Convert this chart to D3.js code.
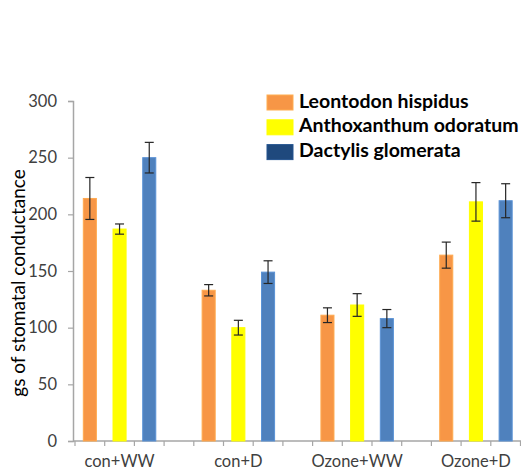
<!DOCTYPE html>
<html>
<head>
<meta charset="utf-8">
<script src="https://cdn.jsdelivr.net/npm/d3@7/dist/d3.min.js"></script>
<style>
  html, body { margin: 0; padding: 0; background: #fff; }
  svg { display: block; }
</style>
</head>
<body>
<svg id="chart" width="521" height="472"></svg>
<script>
// Treatments along the x axis
const treatments = ["con+WW", "con+D", "Ozone+WW", "Ozone+D"];
// Species (legend series)
const species = ["Leontodon hispidus", "Anthoxanthum odoratum", "Dactylis glomerata"];
// Mean stomatal conductance per species, one value per treatment
const leontodon    = [214, 133, 111, 164];
const anthoxanthum = [187, 100, 120, 211];
const dactylis     = [250, 149, 108, 212];
// Error bar half-widths
const leontodonErr    = [18.5, 5, 6.5, 11.5];
const anthoxanthumErr = [4.5, 6.5, 10, 17];
const dactylisErr     = [13.5, 10, 8, 15];
// Y axis ticks
const yTicks = [0, 50, 100, 150, 200, 250, 300];

const barColors    = ["#F79646", "#FFFF00", "#4F81BD"];
const legendColors = ["#F79646", "#FFFF00", "#1F497D"];
const values = [leontodon, anthoxanthum, dactylis];
const errors = [leontodonErr, anthoxanthumErr, dactylisErr];

const svg = d3.select("#chart");
const plotLeft = 75, plotRight = 520.5, plotTop = 101, plotBottom = 441;

const y = d3.scaleLinear().domain([0, 300]).range([plotBottom, plotTop]);

// Groups of three bars with one empty slot between groups
const x0 = d3.scaleBand().domain(treatments).range([plotLeft, plotRight])
  .paddingInner(0.25).paddingOuter(0);
const x1 = d3.scaleBand().domain(species).range([0, x0.bandwidth()])
  .paddingInner(0.56).paddingOuter(0.28);
const slot = x1.step();

const axisColor = "#A6A6A6";
const textColor = "#404040";
const font = "Lato, 'Open Sans', sans-serif";

// Y axis
const yAxis = svg.append("g").attr("transform", `translate(${plotLeft - 2},0)`)
  .call(d3.axisLeft(y).tickValues(yTicks).tickSize(5).tickPadding(11));
yAxis.select(".domain").attr("stroke", axisColor).attr("stroke-width", 1.5);
yAxis.selectAll(".tick line").attr("stroke", axisColor).attr("stroke-width", 1.2);
yAxis.selectAll(".tick text").attr("fill", textColor)
  .style("font-family", font).style("font-size", "16.5px");

// X axis baseline and slot ticks
const slotTicks = d3.range(0, Math.round((plotRight - plotLeft) / slot) + 1).map(i => plotLeft + i * slot);
const xAxisG = svg.append("g");
xAxisG.append("line").attr("x1", plotLeft - 2).attr("x2", plotRight + 2)
  .attr("y1", plotBottom).attr("y2", plotBottom)
  .attr("stroke", axisColor).attr("stroke-width", 1.5);
xAxisG.selectAll("line.tk").data(slotTicks).join("line").attr("class", "tk")
  .attr("x1", d => d).attr("x2", d => d)
  .attr("y1", plotBottom).attr("y2", plotBottom + 5)
  .attr("stroke", axisColor).attr("stroke-width", 1.2);
xAxisG.selectAll("text").data(treatments).join("text")
  .attr("x", d => x0(d) + x0.bandwidth() / 2)
  .attr("y", 467)
  .attr("text-anchor", "middle")
  .attr("fill", textColor)
  .style("font-family", font).style("font-size", "16.5px")
  .text(d => d);

// Bars
const barData = [];
species.forEach((s, si) => {
  treatments.forEach((t, ti) => {
    barData.push({ s, si, t, v: values[si][ti], e: errors[si][ti] });
  });
});

svg.append("g").selectAll("rect").data(barData).join("rect")
  .attr("x", d => x0(d.t) + x1(d.s))
  .attr("y", d => y(d.v))
  .attr("width", x1.bandwidth())
  .attr("height", d => y(0) - y(d.v))
  .attr("fill", d => barColors[d.si])
  .attr("stroke", d => d3.color(barColors[d.si]).brighter(0.35))
  .attr("stroke-width", 1);

// Error bars
const eg = svg.append("g").attr("stroke", "#262626").attr("stroke-width", 1.2);
barData.forEach(d => {
  const cx = x0(d.t) + x1(d.s) + x1.bandwidth() / 2;
  const y1 = y(d.v + d.e), y2 = y(d.v - d.e);
  eg.append("line").attr("x1", cx).attr("x2", cx).attr("y1", y1).attr("y2", y2);
  eg.append("line").attr("x1", cx - 4.5).attr("x2", cx + 4.5).attr("y1", y1).attr("y2", y1);
  eg.append("line").attr("x1", cx - 4.5).attr("x2", cx + 4.5).attr("y1", y2).attr("y2", y2);
});

// Y axis title
svg.append("text")
  .attr("transform", "translate(25,283) rotate(-90)")
  .attr("text-anchor", "middle")
  .attr("fill", "#000")
  .style("font-family", font).style("font-size", "19px")
  .text("gs of stomatal conductance");

// Legend
const lg = svg.append("g").attr("transform", "translate(267,95)");
species.forEach((s, i) => {
  lg.append("rect").attr("x", 0).attr("y", i * 24.8).attr("width", 26).attr("height", 15)
    .attr("fill", legendColors[i])
    .attr("stroke", d3.color(legendColors[i]).brighter(0.4)).attr("stroke-width", 1);
  lg.append("text").attr("x", 32).attr("y", i * 24.8 + 12.5)
    .attr("fill", "#000")
    .style("font-family", font).style("font-size", "19.5px").style("font-weight", "bold")
    .text(s);
});
</script>
</body>
</html>
